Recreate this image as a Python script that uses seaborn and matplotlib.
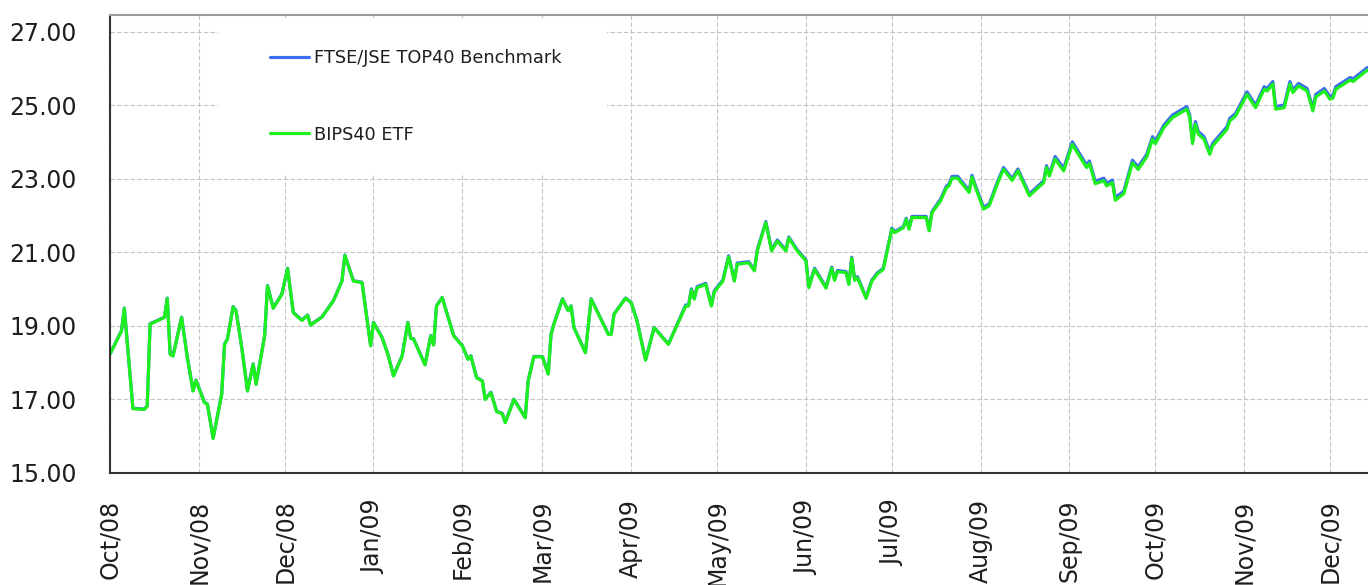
import matplotlib
matplotlib.use('Agg')
import pandas as pd
import seaborn as sns
import matplotlib.pyplot as plt
import matplotlib.dates as mdates
from matplotlib.patches import Rectangle
from matplotlib.ticker import FormatStrFormatter

# --- Data ---
start_date = '2008-10-01'

# day offsets from start_date
days = [0, 4, 5, 8, 12, 13, 14, 19, 20, 21,
        22, 25, 27, 29, 30, 33, 34, 36, 39, 40,
        41, 43, 44, 46, 48, 50, 51, 54, 55, 57,
        60, 62, 64, 67, 69, 70, 74, 78, 81, 82,
        85, 88, 91, 92, 95, 97, 99, 102, 104, 105,
        106, 110, 112, 113, 114, 116, 120, 123, 125, 126,
        128, 130, 131, 133, 135, 137, 138, 140, 141, 145,
        146, 148, 151, 153, 154, 155, 158, 160, 161, 162,
        166, 168, 174, 175, 176, 180, 182, 184, 187, 190,
        195, 201, 202, 203, 204, 205, 208, 210, 211, 214,
        216, 218, 219, 223, 225, 226, 229, 231, 233, 236,
        237, 240, 243, 244, 246, 250, 252, 253, 254, 257,
        258, 259, 260, 261, 264, 266, 268, 270, 273, 274,
        277, 278, 279, 280, 285, 286, 287, 290, 292, 293,
        294, 296, 300, 301, 302, 305, 307, 310, 312, 315,
        317, 321, 326, 327, 328, 330, 333, 336, 341, 342,
        344, 347, 348, 350, 351, 354, 357, 359, 362, 364,
        365, 368, 371, 376, 377, 378, 379, 380, 382, 384,
        385, 386, 390, 391, 393, 397, 400, 403, 404, 406,
        407, 410, 412, 413, 415, 418, 420, 421, 424, 426,
        427, 428, 433, 434, 439, 441]

benchmark = [18.24, 18.87, 19.49, 16.76, 16.74, 16.83, 19.06, 19.24, 19.76, 18.24,
             18.19, 19.24, 18.15, 17.24, 17.53, 16.92, 16.88, 15.95, 17.15, 18.51,
             18.65, 19.53, 19.42, 18.42, 17.24, 17.97, 17.42, 18.74, 20.10, 19.49,
             19.87, 20.57, 19.37, 19.16, 19.30, 19.03, 19.25, 19.69, 20.23, 20.93,
             20.23, 20.19, 18.47, 19.10, 18.69, 18.24, 17.65, 18.19, 19.10, 18.67,
             18.65, 17.95, 18.74, 18.49, 19.55, 19.78, 18.74, 18.47, 18.10, 18.19,
             17.60, 17.51, 17.01, 17.20, 16.68, 16.62, 16.38, 16.79, 17.01, 16.51,
             17.51, 18.17, 18.17, 17.70, 18.78, 19.06, 19.74, 19.42, 19.55, 18.96,
             18.28, 19.74, 18.78, 18.78, 19.33, 19.76, 19.64, 19.15, 18.08, 18.96,
             18.51, 19.57, 19.57, 20.01, 19.76, 20.07, 20.16, 19.57, 19.96, 20.25,
             20.91, 20.25, 20.71, 20.75, 20.53, 21.07, 21.84, 21.07, 21.34, 21.07,
             21.42, 21.07, 20.80, 20.07, 20.57, 20.06, 20.60, 20.27, 20.51, 20.48,
             20.16, 20.87, 20.27, 20.34, 19.78, 20.25, 20.45, 20.57, 21.66, 21.57,
             21.70, 21.93, 21.66, 21.98, 21.98, 21.62, 22.11, 22.45, 22.80, 22.87,
             23.07, 23.07, 22.68, 23.10, 22.86, 22.23, 22.32, 22.95, 23.31, 23.01,
             23.27, 22.59, 22.95, 23.36, 23.13, 23.61, 23.29, 24.01, 23.38, 23.49,
             22.94, 23.02, 22.88, 22.97, 22.49, 22.67, 23.51, 23.33, 23.67, 24.15,
             24.03, 24.47, 24.74, 24.97, 24.74, 24.03, 24.56, 24.29, 24.15, 23.74,
             23.97, 24.06, 24.42, 24.65, 24.78, 25.37, 25.01, 25.51, 25.46, 25.65,
             24.97, 25.01, 25.65, 25.42, 25.60, 25.46, 24.92, 25.30, 25.46, 25.24,
             25.27, 25.51, 25.76, 25.72, 26.03, 25.92]

etf = [18.23, 18.86, 19.48, 16.75, 16.73, 16.82, 19.05, 19.23, 19.75, 18.23,
       18.18, 19.23, 18.14, 17.23, 17.52, 16.91, 16.87, 15.94, 17.14, 18.50,
       18.64, 19.52, 19.41, 18.41, 17.23, 17.96, 17.41, 18.73, 20.09, 19.48,
       19.86, 20.56, 19.36, 19.15, 19.29, 19.02, 19.24, 19.68, 20.22, 20.92,
       20.22, 20.18, 18.46, 19.09, 18.68, 18.23, 17.64, 18.18, 19.09, 18.66,
       18.64, 17.94, 18.73, 18.48, 19.54, 19.77, 18.73, 18.46, 18.09, 18.18,
       17.59, 17.50, 17.00, 17.19, 16.67, 16.61, 16.37, 16.78, 17.00, 16.50,
       17.50, 18.16, 18.16, 17.69, 18.77, 19.05, 19.73, 19.41, 19.54, 18.95,
       18.27, 19.73, 18.77, 18.77, 19.32, 19.75, 19.63, 19.14, 18.07, 18.95,
       18.50, 19.54, 19.54, 19.98, 19.73, 20.04, 20.13, 19.54, 19.93, 20.22,
       20.88, 20.22, 20.68, 20.72, 20.50, 21.04, 21.81, 21.04, 21.31, 21.04,
       21.39, 21.04, 20.77, 20.04, 20.54, 20.03, 20.57, 20.24, 20.48, 20.45,
       20.13, 20.84, 20.24, 20.31, 19.75, 20.22, 20.42, 20.54, 21.63, 21.54,
       21.67, 21.90, 21.63, 21.95, 21.95, 21.59, 22.08, 22.40, 22.75, 22.82,
       23.02, 23.02, 22.63, 23.05, 22.81, 22.18, 22.27, 22.90, 23.26, 22.96,
       23.22, 22.54, 22.90, 23.31, 23.08, 23.54, 23.22, 23.94, 23.31, 23.42,
       22.87, 22.95, 22.81, 22.90, 22.42, 22.60, 23.44, 23.26, 23.60, 24.08,
       23.96, 24.40, 24.67, 24.90, 24.67, 23.96, 24.49, 24.22, 24.08, 23.67,
       23.90, 23.99, 24.35, 24.58, 24.71, 25.30, 24.94, 25.44, 25.39, 25.58,
       24.90, 24.94, 25.58, 25.35, 25.53, 25.39, 24.85, 25.23, 25.39, 25.17,
       25.20, 25.44, 25.69, 25.65, 25.96, 25.85]

series_names = ['FTSE/JSE TOP40 Benchmark', 'BIPS40 ETF']
y_ticks = [15, 17, 19, 21, 23, 25, 27]

df = pd.DataFrame({'day': days, 'benchmark': benchmark, 'etf': etf})
df['date'] = pd.Timestamp(start_date) + pd.to_timedelta(df['day'], unit='D')

# --- Styling ---
sns.set_style("whitegrid")
plt.rcParams['font.family'] = ['DejaVu Sans']
text_col = '#1e1e1e'
blue = '#3c6df2'
green = '#1ef01e'

fig = plt.figure(figsize=(13.68, 5.85), dpi=100)
ax = fig.add_axes([110 / 1368, 112 / 585, 1258 / 1368, 458 / 585])

sns.lineplot(data=df, x='date', y='benchmark', color=blue, lw=2.3, label=series_names[0], ax=ax)
sns.lineplot(data=df, x='date', y='etf', color=green, lw=2.3, label=series_names[1], ax=ax)

# axes ranges
ax.set_xlim(pd.Timestamp(start_date), pd.Timestamp(start_date) + pd.Timedelta(days=439.25))
ax.set_ylim(15, 27.46)
ax.set_yticks(y_ticks)
ax.yaxis.set_major_formatter(FormatStrFormatter('%.2f'))
ax.xaxis.set_major_locator(mdates.MonthLocator())
ax.xaxis.set_major_formatter(mdates.DateFormatter('%b/%y'))
ax.set_xlabel('')
ax.set_ylabel('')

ax.grid(True, color='#c4c4c4', linestyle=(0, (4, 2)), linewidth=0.8)
ax.set_axisbelow(True)

ax.tick_params(axis='y', length=7, width=1.3, color='#333333', pad=17, labelsize=17, labelcolor=text_col)
ax.tick_params(axis='x', length=6, width=1.3, color='#333333', pad=13, labelsize=17, labelcolor=text_col)
for lbl in ax.get_xticklabels():
    lbl.set_rotation(90)
    lbl.set_ha('center')
    lbl.set_va('top')

for side in ['left', 'bottom']:
    ax.spines[side].set_color('#333333')
    ax.spines[side].set_linewidth(1.5)
ax.spines['top'].set_color('#9a9a9a')
ax.spines['top'].set_linewidth(1.5)
ax.spines['right'].set_visible(False)

# white block behind the legend (hides grid there)
ax.add_patch(Rectangle((108 / 1258, 300 / 458), 389 / 1258, 155 / 458,
                       transform=ax.transAxes, facecolor='white', edgecolor='none', zorder=1))

leg = ax.legend(loc='upper left', bbox_to_anchor=(160 / 1258, 424 / 458), frameon=False,
                borderpad=0, borderaxespad=0, fontsize=12.8, labelspacing=3.3,
                handlelength=2.2, handletextpad=0.3)
for t in leg.get_texts():
    t.set_color(text_col)
for h in leg.get_lines():
    h.set_linewidth(2.3)

plt.savefig('out.png', dpi=100)
